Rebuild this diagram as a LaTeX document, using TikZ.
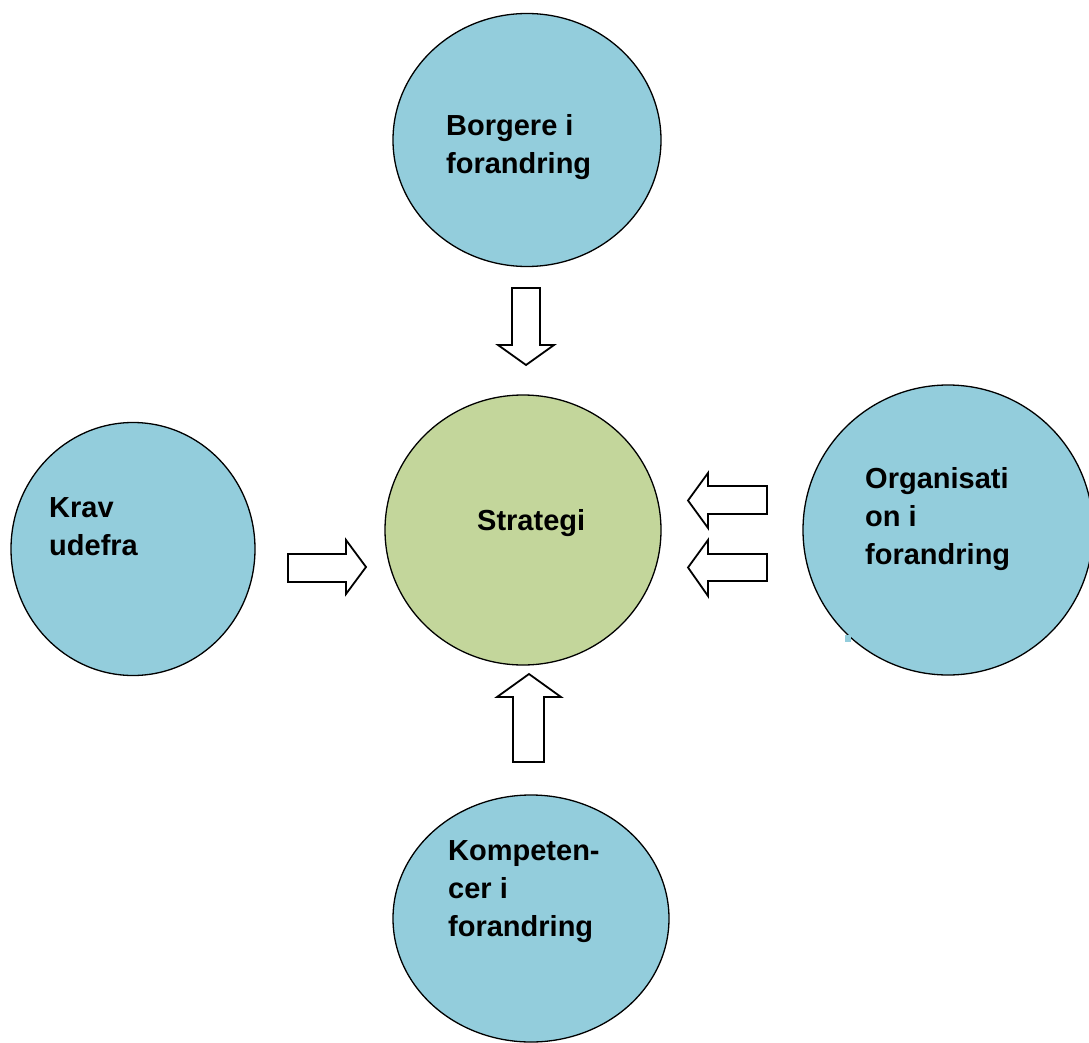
\documentclass[tikz,border=0pt]{standalone}
\usepackage{fontspec}
\setmainfont{Liberation Sans}
\usetikzlibrary{shapes.geometric}
\definecolor{blobblue}{RGB}{147,205,220}
\definecolor{blobgreen}{RGB}{195,214,155}
\tikzset{
  blob/.style={ellipse, draw=black, line width=1.3pt, fill=blobblue, inner sep=0pt},
  core/.style={blob, fill=blobgreen},
  lbl/.style={anchor=base west, inner sep=0pt, font=\fontsize{29}{38}\bfseries\selectfont},
  blockarrow/.style={draw=black, fill=white, line width=1.8pt, line join=miter}
}
\newcommand{\lines}[1]{\begin{tabular}[t]{@{}l@{}}#1\end{tabular}}
\begin{document}
\begin{tikzpicture}[x=1pt,y=-1pt]
\clip (0,0) rectangle (1089,1043);
\fill[white] (0,0) rectangle (1089,1043);
% circles
\node[blob, minimum width=268pt, minimum height=253pt] (borgere) at (527,140) {};
\node[core, minimum width=276pt, minimum height=270pt] (strategi) at (523,530) {};
\node[blob, minimum width=244pt, minimum height=253pt] (krav) at (133,549) {};
\node[blob, minimum width=290pt, minimum height=290pt] (org) at (948,530) {};
\node[blob, minimum width=276pt, minimum height=247pt] (komp) at (531,918.5) {};
% small artefacts
\fill[blobblue] (845,635) rectangle (851,642);
% labels
\node[lbl] (tb) at (446,136) {\lines{Borgere i\\forandring}};
\node[lbl] (ts) at (477,530) {Strategi};
\node[lbl] (tk) at (49,517) {\lines{Krav\\udefra}};
\node[lbl] (to) at (865,488) {\lines{Organisati\\on i\\forandring}};
\node[lbl] (tc) at (448,860) {\lines{Kompeten-\\cer i\\forandring}};
% block arrows
\draw[blockarrow] (512,288) -- (540,288) -- (540,345) -- (554,345) -- (526,365) -- (498,345) -- (512,345) -- cycle;
\draw[blockarrow] (767,486) -- (708,486) -- (708,473) -- (688,500.5) -- (708,528) -- (708,514) -- (767,514) -- cycle;
\draw[blockarrow] (767,554) -- (708,554) -- (708,540) -- (688,567.5) -- (708,596) -- (708,581) -- (767,581) -- cycle;
\draw[blockarrow] (288,554) -- (346,554) -- (346,540) -- (366,567) -- (346,594) -- (346,582) -- (288,582) -- cycle;
\draw[blockarrow] (513,762) -- (513,697) -- (497,697) -- (529,674) -- (561,697) -- (544,697) -- (544,762) -- cycle;
\end{tikzpicture}
\end{document}
